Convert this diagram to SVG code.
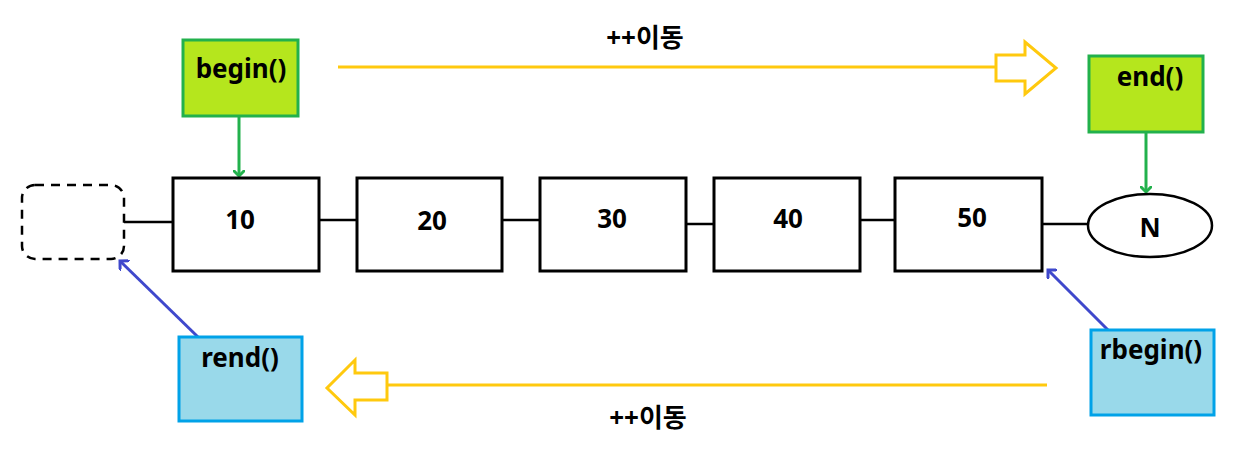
<svg xmlns="http://www.w3.org/2000/svg" width="1233" height="463" viewBox="0 0 1233 463">
<style>
text{font-family:"Noto Sans","Noto Sans CJK KR",sans-serif;font-weight:bold;font-size:26px;fill:#000;text-anchor:middle}
.num{font-size:26px}
.box{fill:#fff;stroke:#000;stroke-width:3}
.g{fill:#b5e61d;stroke:#22b14c;stroke-width:3}
.b{fill:#99d9ea;stroke:#00a2e8;stroke-width:3}
.ln{stroke:#000;stroke-width:2.5;fill:none}
.ga{stroke:#22b14c;stroke-width:3;fill:none}
.ba{stroke:#3f48cc;stroke-width:3;fill:none}
.y{stroke:#ffc90e;stroke-width:3;fill:none}
</style>
<defs>
<marker id="mg" markerWidth="12" markerHeight="12" refX="6" refY="6" orient="auto" markerUnits="userSpaceOnUse" viewBox="0 0 12 12"><path d="M0,0 L6,6 L0,12" fill="none" stroke="#22b14c" stroke-width="3"/></marker>
<marker id="mb" markerWidth="14" markerHeight="14" refX="7" refY="7" orient="auto" markerUnits="userSpaceOnUse" viewBox="0 0 14 14"><path d="M0,0 L7,7 L0,14" fill="none" stroke="#3f48cc" stroke-width="3"/></marker>
</defs>
<g id="connectors">
<line class="ln" x1="124" y1="222" x2="173" y2="222"/>
<line class="ln" x1="319" y1="220" x2="357" y2="220"/>
<line class="ln" x1="502" y1="220" x2="540" y2="220"/>
<line class="ln" x1="686" y1="224" x2="714" y2="224"/>
<line class="ln" x1="860" y1="220" x2="895" y2="220"/>
<line class="ln" x1="1042" y1="224" x2="1087" y2="224"/>
<line class="ga" x1="239" y1="116" x2="239" y2="176" marker-end="url(#mg)"/>
<line class="ga" x1="1146" y1="132" x2="1146" y2="192" marker-end="url(#mg)"/>
<line class="ba" x1="198" y1="337" x2="120" y2="261" marker-end="url(#mb)"/>
<line class="ba" x1="1108" y1="330" x2="1048" y2="270" marker-end="url(#mb)"/>
<line class="y" x1="338" y1="67" x2="996" y2="67"/>
<path class="y" d="M996,55 L1025,55 L1025,42 L1056,68 L1025,94 L1025,81 L996,81 Z"/>
<line class="y" x1="1047" y1="385" x2="387" y2="385"/>
<path class="y" d="M387,373 L355,373 L355,360 L327,388 L355,415 L355,400 L387,400 Z"/>
</g>
<g id="label-top"><text x="645" y="47">++이동</text></g>
<g id="label-bottom"><text x="648" y="427">++이동</text></g>
<g id="begin"><rect class="g" x="183" y="40" width="115" height="76"/><text x="241" y="78">begin()</text></g>
<g id="end"><rect class="g" x="1089" y="56" width="114" height="76"/><text x="1150" y="86">end()</text></g>
<g id="rend"><rect class="b" x="179" y="337" width="123" height="84"/><text x="240" y="367">rend()</text></g>
<g id="rbegin"><rect class="b" x="1091" y="330" width="123" height="85"/><text x="1151" y="359">rbegin()</text></g>
<g id="before"><rect x="22" y="185" width="102" height="74" rx="13" fill="#fff" stroke="#000" stroke-width="2.5" stroke-dasharray="9,7"/></g>
<g id="n10"><rect class="box" x="173" y="178" width="146" height="93"/><text class="num" x="240" y="229">10</text></g>
<g id="n20"><rect class="box" x="357" y="178" width="145" height="93"/><text class="num" x="432" y="230">20</text></g>
<g id="n30"><rect class="box" x="540" y="178" width="146" height="93"/><text class="num" x="612" y="228">30</text></g>
<g id="n40"><rect class="box" x="714" y="178" width="146" height="93"/><text class="num" x="788" y="228">40</text></g>
<g id="n50"><rect class="box" x="895" y="178" width="147" height="93"/><text class="num" x="972" y="227">50</text></g>
<g id="nil"><ellipse cx="1150" cy="225.5" rx="62" ry="31.5" fill="#fff" stroke="#000" stroke-width="2.5"/><text x="1150" y="237">N</text></g>
</svg>
